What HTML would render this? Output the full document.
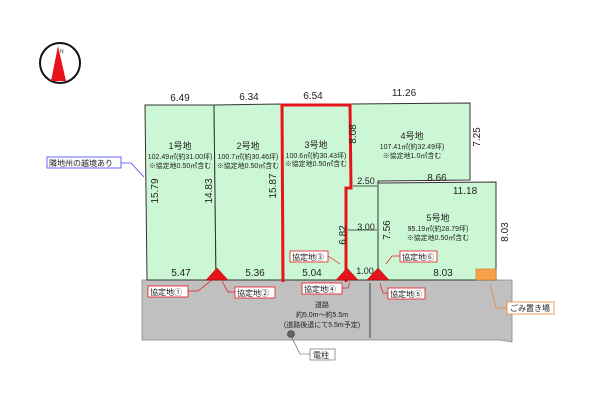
<!DOCTYPE html>
<html><head><meta charset="utf-8"><style>
html,body{margin:0;padding:0;background:#fff;}
svg{display:block;font-family:"Liberation Sans","Noto Sans CJK JP",sans-serif;}
</style></head><body>
<svg width="600" height="404" viewBox="0 0 600 404" xmlns="http://www.w3.org/2000/svg">
<!-- compass -->
<circle cx="60" cy="63" r="20" fill="#fff" stroke="#111" stroke-width="2"/>
<polygon points="58,46 51,81 66,81" fill="#e8141c"/>
<text x="60" y="53" font-size="5" fill="#333">N</text>
<!-- road -->
<polygon points="142,280 512,280 512,342 500,340 142,340" fill="#c0c0c0" stroke="#888" stroke-width="0.8"/>
<!-- lots -->
<g fill="#ccf7d5" stroke="#333" stroke-width="1">
<polygon points="145,105 214,105 216,280 147,280"/>
<polygon points="214,105 282,104 283,280 216,280"/>
<polygon points="282,104 350,104 350,188 345,188 345,280 283,280"/>
<polygon points="350,104 470,103 470,180 378,181 378,280 345,280 345,188 350,188"/>
<polygon points="378,183 496,182 496,280 378,280"/>
</g>
<rect x="476" y="269" width="20" height="11" fill="#f7a24a" stroke="#c97a20" stroke-width="0.6"/>
<!-- red outline lot 3 -->
<polyline points="283,282 282,105 350,105 351,188 346,188 346,282" fill="none" stroke="#e8141c" stroke-width="3"/>
<!-- triangles -->
<g fill="#e8141c" stroke="#900" stroke-width="0.5">
<polygon points="217,268 206,280 228,280"/>
<polygon points="347,268 336,280 358,280"/>
<polygon points="378,268 367,280 389,280"/>
</g>
<!-- dims -->
<g font-size="10" fill="#222" text-anchor="middle">
<text x="180" y="101">6.49</text>
<text x="249" y="100">6.34</text>
<text x="313" y="99">6.54</text>
<text x="404" y="96">11.26</text>
<text x="437" y="181">8.66</text>
<text x="465" y="194">11.18</text>
<text x="181" y="276">5.47</text>
<text x="255" y="276">5.36</text>
<text x="312" y="276">5.04</text>
<text x="443" y="276">8.03</text>
<text x="365" y="274" font-size="9">1.00</text>
<text x="366" y="184" font-size="9">2.50</text>
<text x="366" y="230" font-size="9">3.00</text>
<text transform="translate(158,191) rotate(-90)">15.79</text>
<text transform="translate(212,191) rotate(-90)">14.83</text>
<text transform="translate(276,186) rotate(-90)">15.87</text>
<text transform="translate(356,134) rotate(-90)">8.08</text>
<text transform="translate(480,137) rotate(-90)">7.25</text>
<text transform="translate(346,235) rotate(-90)">6.82</text>
<text transform="translate(390,230) rotate(-90)">7.56</text>
<text transform="translate(508,232) rotate(-90)">8.03</text>
</g>
<g stroke="#222" stroke-width="0.8">
<line x1="353" y1="186" x2="377" y2="186"/>
<line x1="348" y1="230" x2="377" y2="230"/>
<line x1="370" y1="283" x2="370" y2="338"/>
</g>
<!-- lot labels -->
<g fill="#222" text-anchor="middle">
<text x="180" y="149" font-size="9">1号地</text>
<text x="180" y="159" font-size="7">102.49㎡(約31.00坪)</text>
<text x="180" y="168" font-size="7">※協定地0.50㎡含む</text>
<text x="248" y="149" font-size="9">2号地</text>
<text x="248" y="159" font-size="7">100.7㎡(約30.46坪)</text>
<text x="248" y="168" font-size="7">※協定地0.50㎡含む</text>
<text x="316" y="148" font-size="9">3号地</text>
<text x="316" y="158" font-size="7">100.6㎡(約30.43坪)</text>
<text x="316" y="166" font-size="7">※協定地0.50㎡含む</text>
<text x="412" y="139" font-size="9">4号地</text>
<text x="412" y="149" font-size="7">107.41㎡(約32.49坪)</text>
<text x="412" y="158" font-size="7">※協定地1.0㎡含む</text>
<text x="438" y="221" font-size="9">5号地</text>
<text x="438" y="231" font-size="7">95.19㎡(約28.79坪)</text>
<text x="438" y="240" font-size="7">※協定地0.50㎡含む</text>
<text x="322" y="307" font-size="7">道路</text>
<text x="322" y="317" font-size="7">約5.0m～約5.5m</text>
<text x="322" y="327" font-size="7">(道路後退にて5.5m予定)</text>
</g>
<!-- callouts -->
<g font-size="8" fill="#222">
<rect x="47" y="157" width="74" height="11" fill="#fff" stroke="#4040ff" stroke-width="0.8"/>
<text x="49" y="166">隣地州の越境あり</text>
<polyline points="121,163 131,163 144,177" fill="none" stroke="#4040ff" stroke-width="0.8"/>
<g fill="#fff" stroke="#e8141c" stroke-width="0.8">
<rect x="148" y="286" width="40" height="11"/>
<rect x="235" y="287" width="40" height="11"/>
<rect x="302" y="283" width="40" height="11"/>
<rect x="388" y="288" width="37" height="11"/>
<rect x="290" y="251" width="38" height="11"/>
<rect x="400" y="251" width="37" height="11"/>
</g>
<text x="150" y="295">協定地①</text>
<text x="237" y="296">協定地②</text>
<text x="304" y="292">協定地④</text>
<text x="390" y="297">協定地⑤</text>
<text x="292" y="260">協定地③</text>
<text x="402" y="260">協定地⑥</text>
<g fill="none" stroke="#e8141c" stroke-width="0.7">
<polyline points="188,291 198,291 212,280"/>
<polyline points="235,292 228,292 222,281"/>
<polyline points="342,288 348,288 350,282"/>
<polyline points="388,293 383,293 380,283"/>
<polyline points="328,256 340,264"/>
<polyline points="400,256 392,256 386,264"/>
</g>
<rect x="507" y="302" width="47" height="12" fill="#fff" stroke="#f08030" stroke-width="0.8"/>
<text x="510" y="311">ごみ置き場</text>
<polyline points="507,308 496,308 490,284" fill="none" stroke="#f08030" stroke-width="0.7"/>
<circle cx="291" cy="334" r="3.5" fill="#666" stroke="#333" stroke-width="0.6"/>
<rect x="310" y="349" width="25" height="11" fill="#fff" stroke="#555" stroke-width="0.6"/>
<text x="313" y="358">電柱</text>
<polyline points="292,338 300,354 310,354" fill="none" stroke="#555" stroke-width="0.6"/>
</g>
</svg>
</body></html>
